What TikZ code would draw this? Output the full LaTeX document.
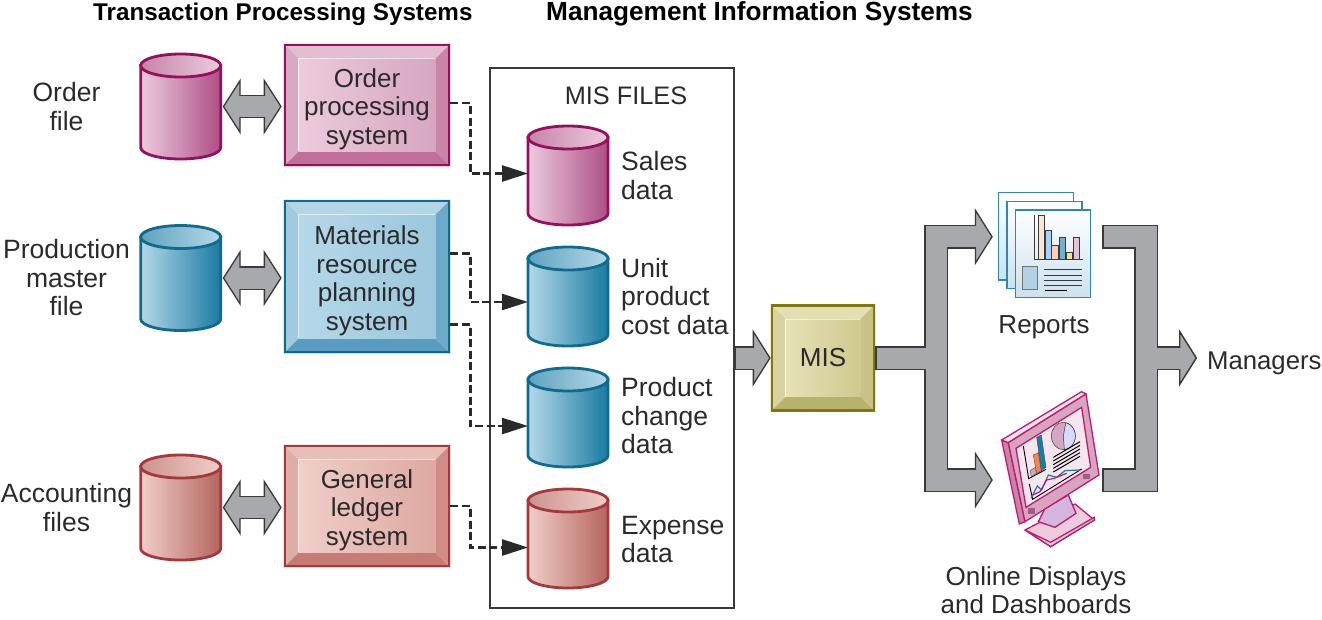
\documentclass[tikz,border=0pt]{standalone}
\usepackage{fontspec}
\setmainfont{Liberation Sans}
\usetikzlibrary{positioning,arrows.meta,backgrounds,calc}
\definecolor{arrgrey}{HTML}{A7A9AC}
\definecolor{arrline}{HTML}{3A3A3C}
\definecolor{inkdark}{HTML}{2A2A2A}
% pink set
\definecolor{pinkline}{HTML}{960F5C}
\definecolor{pinklight}{HTML}{EBCBDC}
\definecolor{pinkdark}{HTML}{AE4F85}
\definecolor{pinkface}{HTML}{D6A6C0}
\definecolor{pinktop}{HTML}{E3BDD0}
\definecolor{pinkleft}{HTML}{D9A9C3}
\definecolor{pinkright}{HTML}{C885A8}
\definecolor{pinkbottom}{HTML}{C06F9A}
% blue set
\definecolor{blueline}{HTML}{0F6A8C}
\definecolor{bluelight}{HTML}{B4D8E8}
\definecolor{bluedark}{HTML}{1A7BA3}
\definecolor{blueface}{HTML}{9CC7DC}
\definecolor{bluetop}{HTML}{B3D6E6}
\definecolor{blueleft}{HTML}{9FCADF}
\definecolor{blueright}{HTML}{6DAAC9}
\definecolor{bluebottom}{HTML}{5A9CBF}
% red set
\definecolor{redline}{HTML}{A5383C}
\definecolor{redlight}{HTML}{F0CEC8}
\definecolor{reddark}{HTML}{B4655E}
\definecolor{redface}{HTML}{DDA9A1}
\definecolor{redtop}{HTML}{E8BFB8}
\definecolor{redleft}{HTML}{DEADA5}
\definecolor{redright}{HTML}{CF8D85}
\definecolor{redbottom}{HTML}{C67C75}
% olive set
\definecolor{oliveline}{HTML}{7F7711}
\definecolor{olivelight}{HTML}{E6E1B6}
\definecolor{olivedark}{HTML}{CFC98F}
\definecolor{oliveface}{HTML}{CFC98F}
\definecolor{olivetop}{HTML}{E4DEB2}
\definecolor{oliveleft}{HTML}{D9D39F}
\definecolor{oliveright}{HTML}{C8C286}
\definecolor{olivebottom}{HTML}{B8B26C}
\definecolor{scrpink}{HTML}{C2186F}
\definecolor{pageblue}{HTML}{2E86C1}

% bevel faces behind a box node
\newcommand{\bevels}[2]{%
  \begin{pgfonlayer}{background}
    \fill[#2top] (#1.north west) -- (#1.north east) -- ([shift={(-15,15)}]#1.north east) -- ([shift={(15,15)}]#1.north west) -- cycle;
    \fill[#2left] (#1.north west) -- (#1.south west) -- ([shift={(15,-15)}]#1.south west) -- ([shift={(15,15)}]#1.north west) -- cycle;
    \fill[#2right] (#1.north east) -- (#1.south east) -- ([shift={(-15,-15)}]#1.south east) -- ([shift={(-15,15)}]#1.north east) -- cycle;
    \fill[#2bottom] (#1.south west) -- (#1.south east) -- ([shift={(-15,-15)}]#1.south east) -- ([shift={(15,-15)}]#1.south west) -- cycle;
    \fill[left color=#2light, right color=#2face] ([shift={(15,15)}]#1.north west) rectangle ([shift={(-15,-15)}]#1.south east);
    \draw[white, opacity=.6, line width=1.2pt] ([shift={(15,-15)}]#1.south west) -- ([shift={(15,15)}]#1.north west) -- ([shift={(-15,15)}]#1.north east);
  \end{pgfonlayer}}
% can outline and lighter cap over a dbfile node
\newcommand{\dbcan}[2]{%
  \draw[draw=#2line, line width=2.8pt, left color=#2light, right color=#2dark] ($(#1.north west)+(0,11.5)$) -- ($(#1.south west)+(0,-11.5)$) arc (180:0:40 and 11.5) -- ($(#1.north east)+(0,11.5)$) -- cycle;
  \draw[draw=#2line, line width=2.8pt, left color=#2dark!70!white, right color=#2light] ($(#1.north)+(0,11.5)$) ellipse (40 and 11.5);}
% pushes a box's lines down a little
\newcommand{\dropline}{\rule{0pt}{27pt}}

\begin{document}
\begin{tikzpicture}[x=1pt, y=-1pt,
  node distance=22pt and 13pt,
  sysbox/.style={draw, line width=2.6pt, minimum width=164pt, align=center, inner sep=0pt, text=inkdark, font=\fontsize{26}{28.5}\selectfont},
  dbfile/.style={inner sep=0pt, outer sep=0pt, minimum width=80pt},
  lbl/.style={font=\fontsize{26}{28.5}\selectfont, text=inkdark, inner sep=0pt},
  sidelbl/.style={lbl, font=\fontsize{26.5}{28.5}\selectfont, align=center, text width=140pt},
  filelbl/.style={lbl, font=\fontsize{26.5}{28.5}\selectfont, align=left, right=13pt of #1},
  head/.style={font=\fontsize{24.2}{28}\bfseries\selectfont, text=black, inner sep=0pt},
  iconspot/.style={minimum width=109pt, minimum height=60pt, inner sep=0pt},
  blockdark/.style={draw=arrline, line width=23.6pt, -{Triangle[length=18pt,width=57pt,line width=1.3pt,fill=arrgrey,color=arrline]}},
  blockgrey/.style={draw=arrgrey, line width=21pt, shorten >=14pt, shorten <=1.3pt},
  twindark/.style={draw=arrline, line width=23.6pt, shorten >=2pt, shorten <=2pt, {Triangle[length=18pt,width=56pt,line width=1.3pt,fill=arrgrey,color=arrline]}-{Triangle[length=18pt,width=56pt,line width=1.3pt,fill=arrgrey,color=arrline]}},
  twingrey/.style={draw=arrgrey, line width=21pt, shorten >=16pt, shorten <=16pt},
  feed/.style={draw=inkdark, line width=2.6pt, dash pattern=on 8pt off 3.5pt, -{Triangle[length=26pt,width=16pt,fill=inkdark,color=inkdark]}}
]
  \useasboundingbox (0,0) rectangle (1322,619);

  % headings
  \node[head, anchor=west] (tpshead) at (93,14) {Transaction Processing Systems};
  \node[head, anchor=west, font=\fontsize{26.2}{28}\bfseries\selectfont] (mishead) at (546,14) {Management Information Systems};

  % transaction systems
  \node[sysbox, draw=pinkline, minimum height=120pt] (ordsys) at (367,105) {\dropline Order\\processing\\system};
  \node[sysbox, draw=blueline, minimum height=151pt] (matsys) at (367,276.5) {\dropline Materials\\resource\\planning\\system};
  \node[sysbox, draw=redline, minimum height=120pt] (ledsys) at (367,506) {\dropline General\\ledger\\system};
  \bevels{ordsys}{pink}
  \bevels{matsys}{blue}
  \bevels{ledsys}{red}

  \node[dbfile, left=63pt of ordsys, yshift=-1.5pt, minimum height=105pt] (ordfile) {};
  \node[dbfile, left=63pt of matsys, yshift=-1.5pt, minimum height=105pt] (matfile) {};
  \node[dbfile, left=63pt of ledsys, yshift=-1.5pt, minimum height=105pt] (ledfile) {};
  \dbcan{ordfile}{pink}
  \dbcan{matfile}{blue}
  \dbcan{ledfile}{red}

  \node[sidelbl, left=4pt of ordfile] (ordlbl) {Order\\file};
  \node[sidelbl, left=4pt of matfile] (matlbl) {Production\\master\\file};
  \node[sidelbl, left=4pt of ledfile] (ledlbl) {Accounting\\files};

  % MIS files
  \node[draw=arrline, line width=1.2pt, minimum width=244pt, minimum height=540pt, inner sep=0pt] (misframe) at (612,338) {};
  \node[lbl, font=\fontsize{25.3}{28.5}\selectfont, below=19pt of misframe.north, xshift=14pt] (mistitle) {MIS FILES};

  \node[dbfile, minimum height=99pt] (sales) at (568,175.5) {};
  \node[dbfile, below=of sales, minimum height=99pt] (unit) {};
  \node[dbfile, below=of unit, minimum height=99pt] (prod) {};
  \node[dbfile, below=of prod, minimum height=99pt] (expn) {};
  \dbcan{sales}{pink}
  \dbcan{unit}{blue}
  \dbcan{prod}{blue}
  \dbcan{expn}{red}

  \node[filelbl=sales] (saleslbl) {Sales\\data};
  \node[filelbl=unit] (unitlbl) {Unit\\product\\cost data};
  \node[filelbl=prod, yshift=1.5pt] (prodlbl) {Product\\change\\data};
  \node[filelbl=expn, yshift=-1pt] (expnlbl) {Expense\\data};

  % feeds into the files
  \draw[feed] ([yshift=2pt]ordsys.east) -- ++(20,0) |- ([yshift=2pt]sales.west);
  \draw[feed] ([yshift=23pt]matsys.east) -- ++(20,0) |- ([yshift=-5.5pt]unit.west);
  \draw[feed] ([yshift=-48pt]matsys.east) -- ++(20,0) |- ([yshift=-8.5pt]prod.west);
  \draw[feed] (ledsys.east) -- ++(20,0) |- ([yshift=-9pt]expn.west);

  % MIS and outputs
  \node[sysbox, draw=oliveline, minimum width=102pt, minimum height=105pt] (mis) at (823,358) {MIS};
  \bevels{mis}{olive}
  \node[iconspot] (rep) at (1047.5,236.7) {};
  \node[iconspot] (disp) at (1047.5,480) {};
  \node[lbl] (replbl) at (1044,327) {Reports};
  \node[lbl, align=center] (displbl) at (1036,590) {Online Displays\\and Dashboards};
  \node[lbl, anchor=west, inner xsep=10pt, font=\fontsize{25.7}{28}\selectfont, text height=22pt, text depth=0pt] (mgr) at (1197,358) {Managers};
  \coordinate (upjoin) at (936,358);
  \coordinate (downjoin) at (1146,358);

  % wide arrows, outline pass then fill pass
  \foreach \lay in {blockdark,blockgrey}{
    \draw[\lay] (misframe.east |- mis.west) -- (mis.west);
    \draw[\lay] (mis.east) -- (upjoin) |- (rep.west);
    \draw[\lay] (upjoin) |- (disp.west);
    \draw[\lay] (rep.east) -| (downjoin) -- (mgr.west);
    \draw[\lay] (disp.east) -| (downjoin) -- (mgr.west);
  }
  \foreach \lay in {twindark,twingrey}{
    \draw[\lay] (ordfile.east) -- (ordfile.east -| ordsys.west);
    \draw[\lay] (matfile.east) -- (matfile.east -| matsys.west);
    \draw[\lay] (ledfile.east) -- (ledfile.east -| ledsys.west);
  }

  % reports icon
  \begin{scope}[shift={(720,180)}, x=0.3333pt, y=-0.3333pt]
    \foreach \px in {0,26,52}{
      \draw[draw=pageblue, line width=1.6pt, top color=white, bottom color=blueleft!55!white]
        (835+\px,38+\px) rectangle (1060+\px,300+\px);
    }
    \foreach \bl/\br/\bt/\bc in {955/972/107/orange!20, 975/993/152/blue!50!cyan!35!white, 995/1015/195/red!30!orange!30, 1018/1035/172/bluedark!60, 1038/1057/217/olive!40!yellow!40, 1060/1077/172/pinkline!25}{
      \filldraw[fill=\bc, draw=arrline, line width=.5pt] (\bl,238) rectangle (\br,\bt);
    }
    \draw[arrline, line width=.8pt] (942,105) -- (942,238) -- (1088,238);
    \filldraw[fill=blueface!80, draw=arrline!70, line width=.5pt] (908,258) rectangle (952,328);
    \foreach \ly in {268,285,300,316}{
      \draw[arrline, line width=.7pt] (972,\ly) -- (1085,\ly);
    }
    \draw[black, line width=.8pt] (975,331) -- (1040,331);
  \end{scope}

  % display icon
  \begin{scope}[shift={(900,380)}, x=0.3333pt, y=-0.3333pt, line width=1.3pt, draw=scrpink]
    \filldraw[fill=pinklight] (375,450) -- (525,372) -- (583,420) -- (452,500) -- cycle;
    \filldraw[fill=pinkface!60!white] (375,450) -- (452,487) -- (583,412) -- (583,420) -- (452,500) -- cycle;
    \filldraw[fill=blue!10!pinklight] (435,385) -- (505,345) -- (528,400) -- (465,442) -- (415,425) -- cycle;
    \filldraw[fill=pinkdark!70!white] (305,180) -- (325,188) -- (375,425) -- (358,432) -- cycle;
    \filldraw[fill=pinklight!50!white] (305,180) -- (545,35) -- (558,42) -- (325,188) -- cycle;
    \filldraw[fill=pinkface] (325,188) -- (558,42) -- (597,285) -- (375,425) -- cycle;
    \filldraw[fill=pinklight!50!white] (348,205) -- (545,82) -- (572,262) -- (378,382) -- cycle;
    \fill[pinkdark!70!gray] (385,385) rectangle (405,402);
    \fill[pinkdark!70!gray] (548,282) rectangle (570,298);
    % bars and pie
    \draw[black, line width=.9pt] (370,198) -- (386,296) -- (438,268);
    \filldraw[fill=pinkface, draw=black!70, line width=.4pt] (390,272) -- (405,263) -- (410,280) -- (394,290) -- cycle;
    \filldraw[fill=red!40!orange!70, draw=black!70, line width=.4pt] (400,225) -- (415,218) -- (424,272) -- (410,280) -- cycle;
    \filldraw[fill=bluedark, draw=black!70, line width=.4pt] (410,172) -- (424,165) -- (438,262) -- (424,272) -- cycle;
    \filldraw[fill=pinkface, draw=arrline, line width=.5pt] (490,168) ellipse (36 and 41);
    \filldraw[fill=blue!15!white, draw=arrline, line width=.5pt] (490,168) -- (497.5,128) arc (-78:85:36 and 41) -- cycle;
    \foreach \ly in {0,11,22,33,44}{
      \draw[black, line width=1pt] (460,232+\ly) -- (540,185+\ly);
    }
    % line chart
    \draw[black, line width=.9pt] (388,312) -- (398,358) -- (545,267);
    \draw[bluedark, line width=1.2pt] (393,355) -- (412,318) -- (425,330) -- (445,285) -- (470,292) -- (495,272) -- (540,270);
    \draw[scrpink, line width=1.2pt] (398,345) -- (420,335) -- (440,300) -- (462,295) -- (500,280);
  \end{scope}
\end{tikzpicture}
\end{document}
